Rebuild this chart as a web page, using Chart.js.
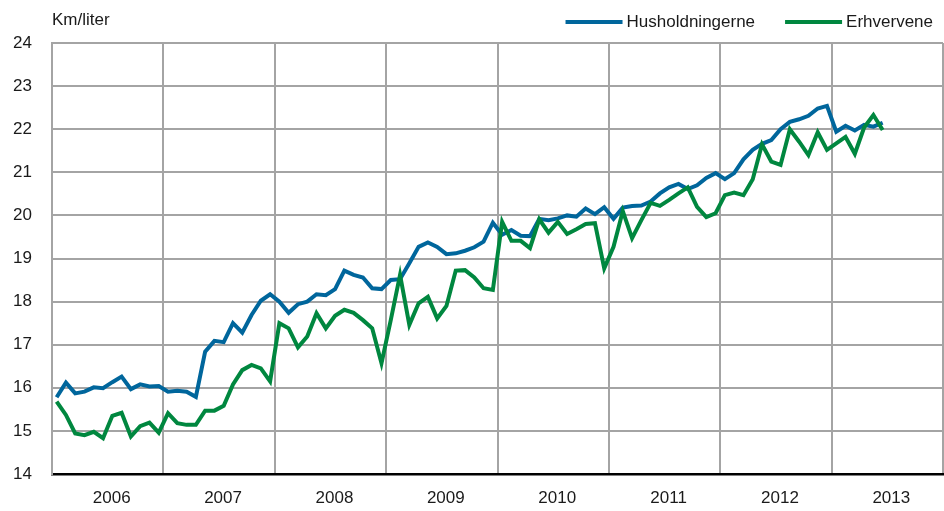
<!DOCTYPE html>
<html>
<head>
<meta charset="utf-8">
<script src="https://cdn.jsdelivr.net/npm/chart.js@4/dist/chart.umd.min.js"></script>
<style>
  html, body { margin: 0; padding: 0; background: #ffffff; }
  #wrap { width: 944px; height: 511px; position: relative; }
</style>
</head>
<body>
<div id="wrap"><canvas id="chart"></canvas></div>
<script>
const aar = ["2006", "2007", "2008", "2009", "2010", "2011", "2012", "2013"];
const enhed = "Km/liter";

// månedlige værdier, jan 2006 - jun 2013
const husholdningerne = [
  15.78, 16.12, 15.87, 15.91, 16.01, 15.99, 16.13, 16.26, 15.97, 16.08, 16.03, 16.04,
  15.91, 15.93, 15.91, 15.79, 16.84, 17.09, 17.06, 17.50, 17.28, 17.69, 18.02, 18.17,
  18.00, 17.74, 17.94, 18.00, 18.17, 18.15, 18.29, 18.72, 18.62, 18.56, 18.31, 18.29,
  18.50, 18.52, 18.89, 19.27, 19.37, 19.27, 19.10, 19.12, 19.18, 19.26, 19.39, 19.83,
  19.55, 19.66, 19.53, 19.52, 19.92, 19.89, 19.93, 20.00, 19.97, 20.16, 20.03, 20.19,
  19.92, 20.18, 20.22, 20.23, 20.32, 20.51, 20.65, 20.73, 20.61, 20.70, 20.87, 20.98,
  20.84, 20.98, 21.30, 21.52, 21.66, 21.75, 22.00, 22.17, 22.23, 22.31, 22.48, 22.54,
  21.94, 22.08, 21.97, 22.10, 22.06, 22.15
];

const erhvervene = [
  15.68, 15.37, 14.94, 14.90, 14.98, 14.83, 15.35, 15.42, 14.87, 15.11, 15.19, 14.96,
  15.41, 15.18, 15.14, 15.14, 15.47, 15.47, 15.58, 16.08, 16.41, 16.53, 16.45, 16.15,
  17.50, 17.38, 16.94, 17.19, 17.73, 17.38, 17.67, 17.81, 17.74, 17.57, 17.38, 16.57,
  17.57, 18.62, 17.46, 17.96, 18.11, 17.61, 17.90, 18.72, 18.73, 18.56, 18.31, 18.27,
  19.85, 19.41, 19.41, 19.24, 19.91, 19.60, 19.85, 19.57, 19.68, 19.80, 19.82, 18.77,
  19.27, 20.10, 19.47, 19.89, 20.29, 20.22, 20.36, 20.51, 20.65, 20.20, 19.96, 20.05,
  20.47, 20.53, 20.47, 20.84, 21.65, 21.25, 21.17, 22.00, 21.71, 21.40, 21.93, 21.52,
  21.67, 21.82, 21.43, 22.04, 22.33, 21.98
];

const blaa = "#00669c";
const groen = "#00873f";
const gitter = "#a4a4a4";
const skrift = "'Liberation Sans', Arial, sans-serif";

// hver måned placeres midt i sin måned på en lineær akse (0 = start 2006)
function tilPunkter(vaerdier) {
  return vaerdier.map((v, i) => ({ x: i + 0.5, y: v }));
}

// egen forklaring og enhedstekst øverst
const topTekst = {
  id: "topTekst",
  afterDraw(chart) {
    const ctx = chart.ctx;
    const area = chart.chartArea;
    ctx.save();
    ctx.font = "17px " + skrift;
    ctx.fillStyle = "#1a1a1a";
    ctx.textBaseline = "middle";
    ctx.textAlign = "left";
    ctx.fillText(enhed, area.left, 20);

    let hoejre = area.right - 10;
    const ds = chart.data.datasets;
    for (let i = ds.length - 1; i >= 0; i--) {
      const w = ctx.measureText(ds[i].label).width;
      const tx = hoejre - w;
      ctx.fillStyle = "#1a1a1a";
      ctx.fillText(ds[i].label, tx, 22);
      ctx.strokeStyle = ds[i].borderColor;
      ctx.lineWidth = 4;
      ctx.beginPath();
      ctx.moveTo(tx - 61, 22);
      ctx.lineTo(tx - 4, 22);
      ctx.stroke();
      hoejre = tx - 61 - 30;
    }
    ctx.restore();
  }
};

new Chart(document.getElementById("chart"), {
  type: "line",
  data: {
    datasets: [
      {
        label: "Husholdningerne",
        data: tilPunkter(husholdningerne),
        borderColor: blaa,
        borderWidth: 4,
        pointRadius: 0,
        tension: 0,
        order: 2
      },
      {
        label: "Erhvervene",
        data: tilPunkter(erhvervene),
        borderColor: groen,
        borderWidth: 4,
        pointRadius: 0,
        tension: 0,
        order: 1
      }
    ]
  },
  options: {
    responsive: true,
    maintainAspectRatio: false,
    animation: false,
    layout: {
      padding: { top: 43, right: 1, left: 0, bottom: 0 }
    },
    plugins: {
      legend: { display: false },
      tooltip: { enabled: false }
    },
    scales: {
      x: {
        type: "linear",
        min: 0,
        max: aar.length * 12,
        afterFit(scale) {
          scale.height = 37;
          scale.paddingLeft = 0;
          scale.paddingRight = 0;
        },
        ticks: {
          stepSize: 6,
          autoSkip: false,
          maxRotation: 0,
          padding: 14,
          labelOffset: 4,
          color: "#1a1a1a",
          font: { family: skrift, size: 17 },
          callback(value) {
            return value % 12 === 6 ? aar[(value - 6) / 12] : "";
          }
        },
        grid: {
          drawTicks: false,
          lineWidth: 2,
          color(ctx) {
            return ctx.tick && ctx.tick.value % 12 === 0 ? gitter : "rgba(0,0,0,0)";
          }
        },
        border: {
          display: true,
          color: "#000000",
          width: 2.5
        }
      },
      y: {
        min: 14,
        max: 24,
        afterFit(scale) {
          scale.width = 52;
        },
        ticks: {
          stepSize: 1,
          padding: 20,
          color: "#1a1a1a",
          font: { family: skrift, size: 17 }
        },
        grid: {
          drawTicks: false,
          lineWidth: 2,
          color: gitter
        },
        border: {
          display: true,
          color: gitter,
          width: 2
        }
      }
    }
  },
  plugins: [topTekst]
});
</script>
</body>
</html>
